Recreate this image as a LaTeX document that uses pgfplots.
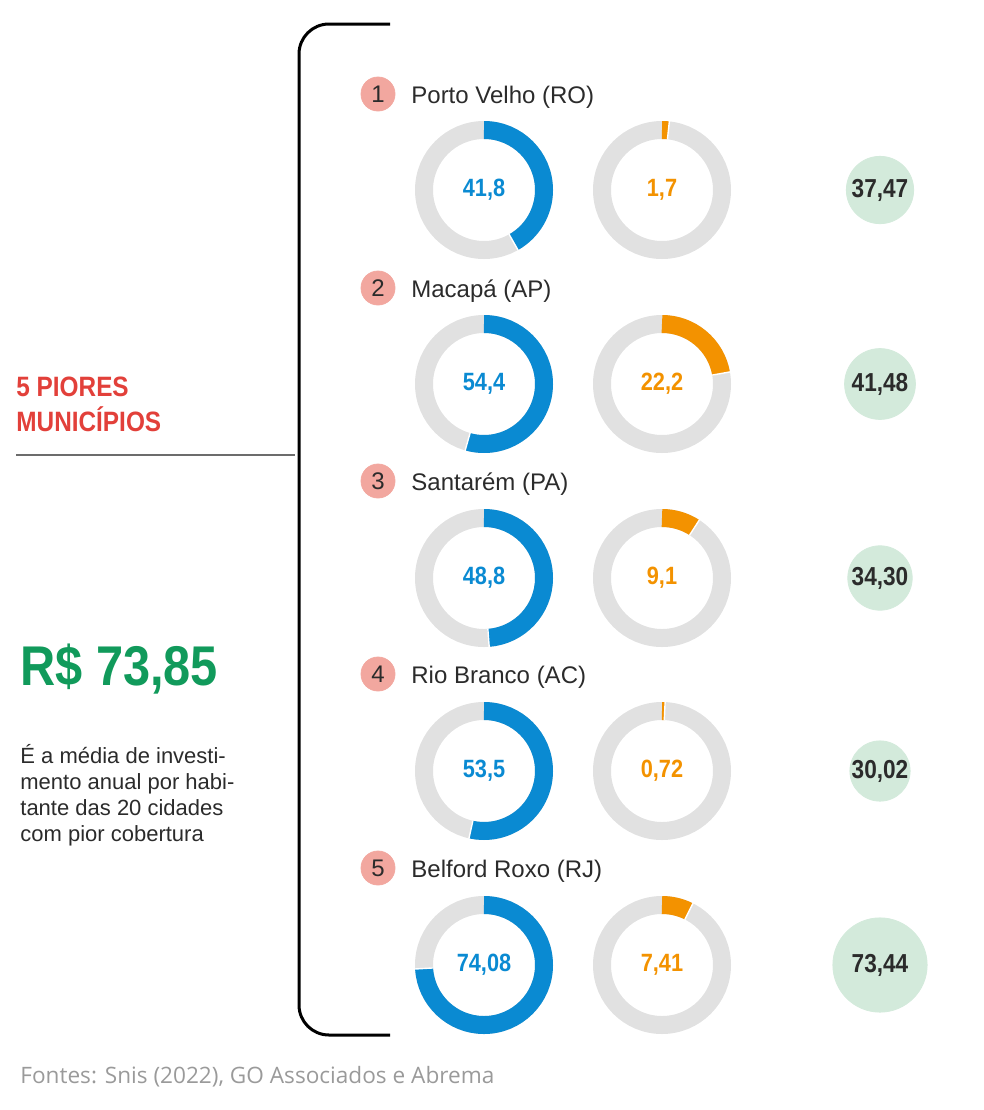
\documentclass[border=0pt]{standalone}
\usepackage{pgfplots}
\usepackage{pgfplotstable}
\pgfplotsset{compat=1.18}
\usepackage{fontspec}
\setmainfont{Liberation Sans}
\newfontfamily\condfont{Liberation Sans}[FakeStretch=0.87]
\newfontfamily\footfont{Open Sans}
\definecolor{cblue}{HTML}{0A8AD2}
\definecolor{corange}{HTML}{F39200}
\definecolor{cring}{HTML}{E1E1E1}
\definecolor{cpink}{HTML}{F2A79F}
\definecolor{cgreenc}{HTML}{D3EADB}
\definecolor{cred}{HTML}{E2403A}
\definecolor{cgreent}{HTML}{119A5B}
\definecolor{ctext}{HTML}{2B2B2B}
\definecolor{cfoot}{HTML}{9A9A9A}

% coverage of water (blue) and sewage (orange), in %
\pgfplotstableread{
x y v
484 190 41.8
484 384 54.4
484 578 48.8
484 771 53.5
484 965 74.08
}\water
\pgfplotstableread{
x y v
662 190 1.7
662 384 22.2
662 578 9.1
662 771 0.72
662 965 7.41
}\sewage
% investment per inhabitant, R$
\pgfplotstableread{
x y v
880 190 37.47
880 384 41.48
880 578 34.30
880 771 30.02
880 965 73.44
}\invest
\pgfplotstableread{
x y n
378 94 1
378 288 2
378 481 3
378 674 4
378 868 5
}\ranks

\newcommand\getval{%
  \pgfmathfloatparsenumber{\pgfplotspointmeta}%
  \pgfmathfloattofixed{\pgfmathresult}%
  \let\val\pgfmathresult}

\pgfplotsset{
  donut/.style={
    scatter, only marks, mark=*, mark size=0pt,
    point meta=explicit,
    scatter/@pre marker code/.code={%
      \getval
      \pgfmathsetmacro\endang{90-3.6*\val}%
      \draw[cring, line width=9pt] (0,0) circle[radius=30pt];
      \draw[#1, line width=9pt] (90:30pt) arc[start angle=90, end angle=\endang, radius=30pt];
      \draw[white, line width=0.7pt] (\endang:25.3pt) -- (\endang:34.7pt);
      \node[anchor=center, text=#1, font=\condfont\bfseries\fontsize{12.5}{14}\selectfont] at (0,0)
        {\pgfmathprintnumber[assume math mode=true, use comma, precision=2]{\val}};
      \pgfscope
    },
    scatter/@post marker code/.code={\endpgfscope},
  },
}

\begin{document}
\begin{tikzpicture}
\begin{axis}[
  scale only axis, width=492pt, height=555pt,
  xmin=0, xmax=984, ymin=0, ymax=1110, y dir=reverse,
  hide axis, clip=false,
]
\path (rel axis cs:0,0) rectangle (rel axis cs:1,1);

% bracket
\draw[black, line width=1.5pt, rounded corners=15pt]
  (axis cs:390,24) -- (axis cs:299,24) -- (axis cs:299,1035) -- (axis cs:390,1035);
\draw[gray!85!black, line width=1.2pt] (axis cs:16,455) -- (axis cs:295,455);

% left texts
\node[anchor=base west, inner sep=0pt, text=cred, font=\condfont\bfseries\fontsize{14}{16}\selectfont]
  at (axis cs:16,396) {5 PIORES};
\node[anchor=base west, inner sep=0pt, text=cred, font=\condfont\bfseries\fontsize{14}{16}\selectfont]
  at (axis cs:16,431) {MUNICÍPIOS};
\node[anchor=base west, inner sep=0pt, text=cgreent, font=\condfont\bfseries\fontsize{28}{32}\selectfont]
  at (axis cs:20,685) {R\$ 73,85};
\begin{scope}[every node/.style={anchor=base west, inner sep=0pt, text=ctext, font=\fontsize{11}{13}\selectfont}]
\node at (axis cs:20,763) {É a média de investi-};
\node at (axis cs:20,789) {mento anual por habi-};
\node at (axis cs:20,815) {tante das 20 cidades};
\node at (axis cs:20,841) {com pior cobertura};
\end{scope}

% rank circles
\addplot[only marks, color=cpink, mark=*, mark size=8.5pt, mark options={fill=cpink, draw=cpink},
  point meta=explicit symbolic, nodes near coords, nodes near coords align=center,
  every node near coord/.style={anchor=center, text=ctext, font=\fontsize{12}{14}\selectfont}]
  table[x=x, y=y, meta=n] {\ranks};

% city names
\begin{scope}[every node/.style={anchor=base west, inner sep=0pt, text=ctext, font=\fontsize{12}{14}\selectfont}]
\node at (axis cs:411,103) {Porto Velho (RO)};
\node at (axis cs:411,297) {Macapá (AP)};
\node at (axis cs:411,490) {Santarém (PA)};
\node at (axis cs:411,683) {Rio Branco (AC)};
\node at (axis cs:411,877) {Belford Roxo (RJ)};
\end{scope}

% donuts
\addplot[donut=cblue] table[x=x, y=y, meta=v] {\water};
\addplot[donut=corange] table[x=x, y=y, meta=v] {\sewage};

% investment circles (area proportional to value)
\addplot[scatter, only marks, mark=*, mark size=0pt,
  point meta=explicit,
  scatter/@pre marker code/.code={%
    \getval
    \pgfmathsetmacro\rr{2.75*sqrt(\val)}%
    \fill[cgreenc] (0,0) circle[radius=\rr pt];
    \node[anchor=center, text=ctext, font=\condfont\bfseries\fontsize{13}{15}\selectfont] at (0,0)
      {\pgfmathprintnumber[assume math mode=true, use comma, fixed, zerofill, precision=2]{\val}};
    \pgfscope
  },
  scatter/@post marker code/.code={\endpgfscope}]
  table[x=x, y=y, meta=v] {\invest};

% footer
\node[anchor=base west, inner sep=0pt, text=cfoot, font=\footfont\fontsize{11.3}{13}\selectfont]
  at (axis cs:20,1083) {Fontes: Snis (2022), GO Associados e Abrema};
\end{axis}
\end{tikzpicture}
\end{document}
